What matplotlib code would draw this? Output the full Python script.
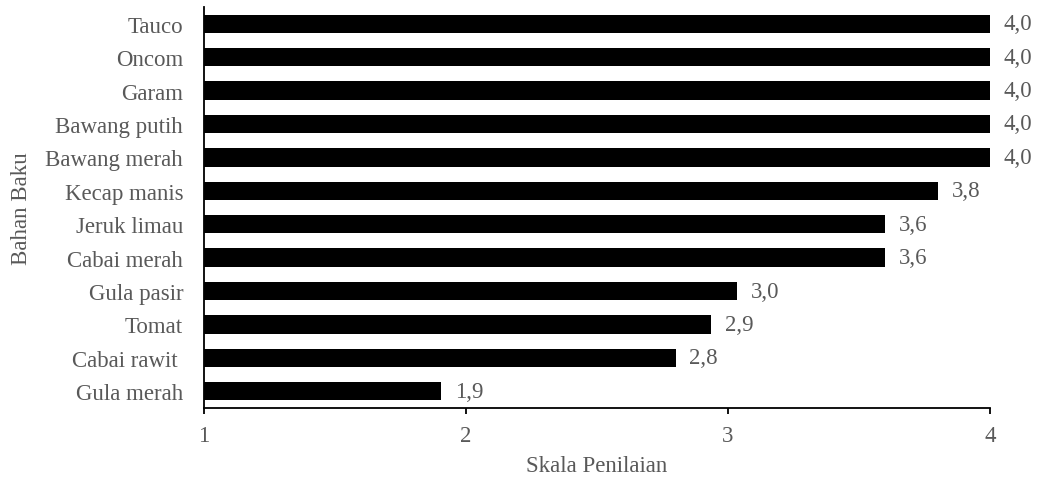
import matplotlib
matplotlib.use("Agg")
import matplotlib.pyplot as plt

# bahan baku, bottom to top as drawn
ingredients = ["Gula merah", "Cabai rawit ", "Tomat", "Gula pasir", "Cabai merah",
               "Jeruk limau", "Kecap manis", "Bawang merah", "Bawang putih",
               "Garam", "Oncom", "Tauco"]
scores = [1.905, 2.8, 2.935, 3.035, 3.6, 3.6, 3.8, 4.0, 4.0, 4.0, 4.0, 4.0]
xticks = [1, 2, 3, 4]

TEXT = "#595959"
plt.rcParams["font.family"] = ["Liberation Serif", "DejaVu Serif"]
plt.rcParams["font.size"] = 16.5

fig = plt.figure(figsize=(10.38, 4.81), dpi=100)
ax = fig.add_axes([204 / 1038, 1 - 409 / 481, 786 / 1038, 401 / 481])

bars = ax.barh(ingredients, scores, height=0.55, color="black")
ax.bar_label(bars, fmt=lambda v: f"{v:.1f}".replace(".", ","),
             padding=10, color=TEXT)

ax.set_xlim(1, 4)
ax.set_ylim(-0.5, len(ingredients) - 0.5)
ax.set_xticks(xticks)
for s in ("top", "right"):
    ax.spines[s].set_visible(False)
for s in ("left", "bottom"):
    ax.spines[s].set_linewidth(1.3)
ax.tick_params(axis="x", length=4.5, width=1.3, pad=8, color="black",
               labelcolor=TEXT)
ax.tick_params(axis="y", length=0, pad=15, labelcolor=TEXT)

ax.set_xlabel("Skala Penilaian", color=TEXT, labelpad=6)
ax.set_ylabel("Bahan Baku", color=TEXT, labelpad=10)

fig.savefig("out.png", dpi=100, facecolor="white")
